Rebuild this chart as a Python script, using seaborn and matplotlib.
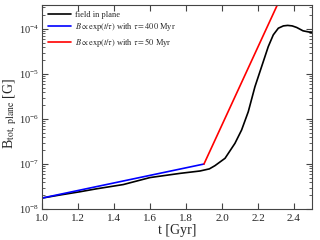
import numpy as np
import pandas as pd
import matplotlib
matplotlib.use('Agg')
import matplotlib.pyplot as plt
import seaborn as sns

# field in plane
t_field = [1.0, 1.1, 1.211, 1.3, 1.452, 1.6, 1.767, 1.878, 1.93, 1.961, 2.017, 2.072,
           2.109, 2.146, 2.183, 2.22, 2.257, 2.285, 2.313, 2.341, 2.365, 2.39, 2.415,
           2.45, 2.5]
b_field = [1.75e-8, 2.05e-8, 2.42e-8, 2.8e-8, 3.5e-8, 5.0e-8, 6.2e-8, 7.0e-8, 7.8e-8,
           9.2e-8, 1.34e-7, 2.88e-7, 5.7e-7, 1.45e-6, 5.2e-6, 1.45e-5, 4.05e-5, 7.4e-5,
           1.04e-4, 1.17e-4, 1.2e-4, 1.17e-4, 1.08e-4, 9.1e-5, 8.3e-5]

# exponential fits
t_slow = [1.0, 1.9]
b_slow = [1.75e-8, 1.0e-7]
t_fast = [1.9, 2.5]
b_fast = [1.0e-7, 1.6e-2]

labels = ['field in plane',
          r'$B \propto \exp(t/\tau)$ with $\tau = 400$ Myr',
          r'$B \propto \exp(t/\tau)$ with $\tau = 50$ Myr']

sns.set_style("ticks")
plt.rcParams['font.family'] = ['Liberation Serif', 'DejaVu Serif']
plt.rcParams['mathtext.fontset'] = 'stix'
plt.rcParams['xtick.direction'] = 'in'
plt.rcParams['ytick.direction'] = 'in'

fig = plt.figure(figsize=(3.2, 2.4), dpi=100)
ax = fig.add_axes([0.131, 0.129, 0.844, 0.85])

sns.lineplot(x=t_field, y=b_field, color='black', lw=1.2, ax=ax, label=labels[0])
sns.lineplot(x=t_slow, y=b_slow, color='blue', lw=1.2, ax=ax, label=labels[1])
sns.lineplot(x=t_fast, y=b_fast, color='red', lw=1.2, ax=ax, label=labels[2])

ax.set_yscale('log')
ax.set_xlim(1.0, 2.5)
ax.set_ylim(1e-8, 3.4e-4)
ax.set_xticks([1.0, 1.2, 1.4, 1.6, 1.8, 2.0, 2.2, 2.4])
ax.tick_params(which='both', top=True, right=True, labelsize=8, color='#444444')
ax.tick_params(axis='y', labelsize=7.5, pad=2)
ax.tick_params(which='major', length=4)
ax.tick_params(which='minor', length=2)
for s in ax.spines.values():
    s.set_color('#444444')

ax.set_xlabel('t [Gyr]', fontsize=10, labelpad=1)
ax.set_ylabel(r'B$_{\rm tot,\ plane}$ [G]', fontsize=10)
ax.yaxis.set_label_coords(-0.085, 0.47)

ax.legend(loc='upper left', frameon=False, fontsize=6, handlelength=2.8,
          handletextpad=0.5, borderaxespad=0.3, labelspacing=0.3)

fig.savefig('out.png', dpi=100)
